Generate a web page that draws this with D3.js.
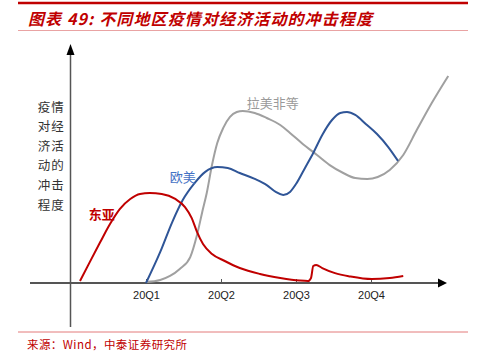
<!DOCTYPE html>
<html>
<head>
<meta charset="utf-8">
<script src="https://cdn.jsdelivr.net/npm/d3@7"></script>
<style>
  body { margin: 0; background: #fff; }
  svg { display: block; }
</style>
</head>
<body>
<div id="chart"></div>
<script>
//=========================== data ============================================

var quarters = ['20Q1', '20Q2', '20Q3', '20Q4'];

// [quarter position, impact index]
var eastAsia = [
    [0.12, 0.9], [0.25, 9.5], [0.39, 18.6], [0.52, 26.8], [0.65, 33.6],
    [0.79, 38.2], [0.92, 40.5], [1.05, 40.9], [1.21, 40.5], [1.39, 38.2],
    [1.52, 34.5], [1.61, 29.5], [1.68, 23.2], [1.76, 17.7], [1.88, 13.2],
    [2.05, 10], [2.25, 6.8], [2.52, 4.1], [2.79, 2.3], [3.05, 1.1],
    [3.16, 0.9], [3.2, 2.3], [3.23, 7.7], [3.27, 8.2], [3.35, 6.8],
    [3.52, 4.5], [3.72, 3], [4.01, 1.8], [4.25, 2.3], [4.43, 3.2]
];

var euroUs = [
    [1.00, 0], [1.19, 14.1], [1.35, 27.7], [1.49, 37.7], [1.65, 45.5],
    [1.79, 50.5], [1.95, 52.7], [2.09, 52.3], [2.25, 50], [2.45, 47.3],
    [2.61, 44.5], [2.73, 41.4], [2.83, 40], [2.92, 41.4], [3.01, 45.5],
    [3.12, 52.3], [3.23, 59.1], [3.35, 67.3], [3.48, 74.1], [3.59, 77.3],
    [3.68, 77.7], [3.79, 76.4], [3.93, 72.3], [4.08, 67.7], [4.23, 61.8],
    [4.36, 55.5]
];

var latamEtc = [
    [1.00, 0.5], [1.19, 1.4], [1.32, 3.2], [1.45, 6.4], [1.59, 11.8],
    [1.68, 21.8], [1.75, 32.3], [1.81, 40.9], [1.88, 53.6], [1.95, 63.6],
    [2.03, 70.5], [2.12, 75.5], [2.21, 77.7], [2.29, 78.2], [2.45, 77.3],
    [2.61, 75], [2.79, 71.8], [2.92, 68.2], [3.09, 63.2], [3.28, 58.2],
    [3.45, 53.6], [3.63, 50], [3.79, 47.7], [3.95, 47.3], [4.09, 48.2],
    [4.25, 51.4], [4.43, 58.2], [4.61, 69.5], [4.81, 81.8], [5.03, 94.1]
];

var yTitleRows = ['疫情', '对经', '济活', '动的', '冲击', '程度'];

//=========================== chart ===========================================

var W = 478, H = 363;
var RED = '#c00000';

var svg = d3.select('#chart').append('svg')
    .attr('width', W)
    .attr('height', H);

// header / footer rules
svg.append('line').attr('x1', 18).attr('x2', 468).attr('y1', 3).attr('y2', 3)
    .attr('stroke', RED).attr('stroke-width', 2.5);
svg.append('line').attr('x1', 18).attr('x2', 468).attr('y1', 30.5).attr('y2', 30.5)
    .attr('stroke', '#e9a3a3').attr('stroke-width', 1);
svg.append('line').attr('x1', 18).attr('x2', 468).attr('y1', 332).attr('y2', 332)
    .attr('stroke', '#e37b7b').attr('stroke-width', 1);

svg.append('text')
    .attr('x', 28).attr('y', 25)
    .attr('fill', RED)
    .style('font-family', '"Noto Sans CJK SC", sans-serif')
    .style('font-size', '16px')
    .style('font-weight', 'bold')
    .style('font-style', 'italic')
    .attr('textLength', 344)
    .text('图表 49:  不同地区疫情对经济活动的冲击程度');

svg.append('text')
    .attr('x', 27).attr('y', 349)
    .attr('fill', RED)
    .style('font-family', '"Noto Sans CJK SC", sans-serif')
    .style('font-size', '11.5px')
    .attr('textLength', 160)
    .text('来源：Wind，中泰证券研究所');

// scales
var x = d3.scaleLinear().domain([1, 4]).range([146, 371]);
var y = d3.scaleLinear().domain([0, 100]).range([283, 63]);

// axes
var axisColor = '#555';
svg.append('line')
    .attr('x1', 30).attr('x2', 439)
    .attr('y1', y(0)).attr('y2', y(0))
    .attr('stroke', axisColor).attr('stroke-width', 2);
svg.append('path')
    .attr('d', d3.line()([[438, y(0) - 4.5], [447, y(0)], [438, y(0) + 4.5]]) + 'Z')
    .attr('fill', '#000');

svg.append('line')
    .attr('x1', 70.5).attr('x2', 70.5)
    .attr('y1', 54).attr('y2', 327)
    .attr('stroke', axisColor).attr('stroke-width', 1.5);
svg.append('path')
    .attr('d', d3.line()([[66.5, 55], [70.5, 44], [74.5, 55]]) + 'Z')
    .attr('fill', '#000');

var xAxis = svg.append('g')
    .attr('transform', 'translate(0,' + y(0) + ')')
    .call(d3.axisBottom(x)
        .tickValues([1, 2, 3, 4])
        .tickFormat((d, i) => quarters[i])
        .tickSizeInner(-4)
        .tickSizeOuter(0)
        .tickPadding(8));
xAxis.select('.domain').remove();
xAxis.selectAll('line').attr('stroke', axisColor);
xAxis.selectAll('text')
    .attr('fill', '#222')
    .style('font-family', '"Liberation Sans", Arial, sans-serif')
    .style('font-size', '11px');

// y title, written in two columns
var yTitle = svg.append('g')
    .style('font-family', '"Noto Sans CJK SC", sans-serif')
    .style('font-size', '12.5px')
    .attr('fill', '#333')
    .attr('text-anchor', 'middle');
yTitleRows.forEach(function(row, i) {
    row.split('').forEach(function(ch, j) {
        yTitle.append('text')
            .attr('x', 44 + j * 13.5)
            .attr('y', 111.5 + i * 19.6)
            .text(ch);
    });
});

// series
var line = d3.line()
    .x(d => x(d[0]))
    .y(d => y(d[1]))
    .curve(d3.curveMonotoneX);

var series = [
    { data: latamEtc, color: '#a0a0a0' },
    { data: euroUs,   color: '#2f5597' },
    { data: eastAsia, color: RED }
];
series.forEach(function(s) {
    svg.append('path')
        .attr('d', line(s.data))
        .attr('fill', 'none')
        .attr('stroke', s.color)
        .attr('stroke-width', 2);
});

// series labels
var labels = [
    { text: '东亚', q: 0.41, v: 31, color: RED },
    { text: '欧美', q: 1.49, v: 48, color: '#4472c4' },
    { text: '拉美非等', q: 2.69, v: 81.5, color: '#9a9a9a' }
];
labels.forEach(function(l) {
    svg.append('text')
        .attr('x', x(l.q)).attr('y', y(l.v) + 4.5)
        .attr('text-anchor', 'middle')
        .attr('fill', l.color)
        .style('font-family', '"Noto Sans CJK SC", sans-serif')
        .style('font-size', '13px')
        .style('font-weight', l.text === '东亚' ? 'bold' : 'normal')
        .text(l.text);
});
</script>
</body>
</html>
